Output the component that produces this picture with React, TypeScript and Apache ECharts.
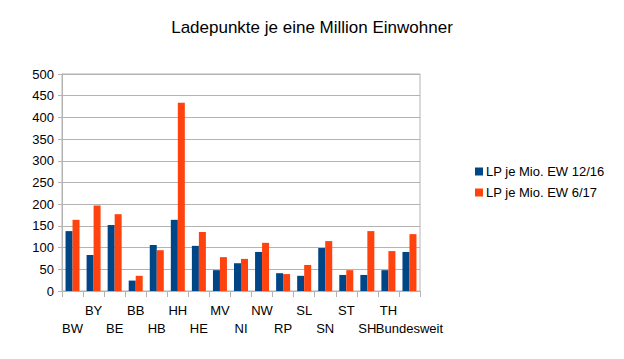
import React, { useEffect, useRef } from "react";
import * as echarts from "echarts";

const categories = ["BW", "BY", "BE", "BB", "HB", "HH", "HE", "MV", "NI", "NW", "RP", "SL", "SN", "ST", "SH", "TH", "Bundesweit"];
const series1216 = [138, 83, 152, 24, 106, 164, 104, 48, 64, 90, 41, 35, 99, 37, 37, 48, 90];
const series617 = [164, 197, 177, 35, 94, 434, 136, 78, 74, 111, 39, 60, 115, 48, 138, 92, 131];
const yTicks = { min: 0, max: 500, interval: 50 };

export default function App() {
  const ref = useRef<HTMLDivElement>(null);
  useEffect(() => {
    const chart = echarts.init(ref.current!, null, { renderer: "svg" });
    const font = "'Liberation Sans', Arial, sans-serif";
    chart.setOption({
      animation: false,
      textStyle: { fontFamily: font },
      title: {
        text: "Ladepunkte je eine Million Einwohner",
        left: "center",
        top: 14,
        textStyle: { fontFamily: font, fontSize: 17, fontWeight: "normal", color: "#000" },
      },
      legend: {
        orient: "vertical",
        left: 470,
        top: 160,
        itemWidth: 8,
        itemHeight: 8,
        itemGap: 8,
        icon: "rect",
        textStyle: { fontFamily: font, fontSize: 13, color: "#000", padding: [0, 0, 0, -2] },
        data: ["LP je Mio. EW 12/16", "LP je Mio. EW 6/17"],
      },
      grid: {
        left: 62,
        right: 204,
        top: 74,
        bottom: 68,
        show: true,
        borderColor: "#b3b3b3",
        borderWidth: 1,
      },
      xAxis: {
        type: "category",
        data: categories,
        boundaryGap: true,
        axisLine: { lineStyle: { color: "#b3b3b3" } },
        axisTick: { show: true, length: 6, interval: 0, lineStyle: { color: "#b3b3b3" } },
        axisLabel: {
          interval: 0,
          color: "#000",
          fontSize: 13,
          fontFamily: font,
          margin: 10,
          lineHeight: 18,
          formatter: (v: string, i: number) => (i % 2 === 0 ? "\n" + v : v),
        },
      },
      yAxis: {
        type: "value",
        min: yTicks.min,
        max: yTicks.max,
        interval: yTicks.interval,
        axisLine: { show: true, lineStyle: { color: "#b3b3b3" } },
        axisTick: { show: true, length: 4, lineStyle: { color: "#b3b3b3" } },
        axisLabel: { color: "#000", fontSize: 13, fontFamily: font, margin: 8 },
        splitLine: { lineStyle: { color: "#b3b3b3" } },
      },
      series: [
        {
          name: "LP je Mio. EW 12/16",
          type: "bar",
          data: series1216,
          barWidth: 7,
          barGap: "0%",
          itemStyle: { color: "#004586" },
        },
        {
          name: "LP je Mio. EW 6/17",
          type: "bar",
          data: series617,
          barWidth: 7,
          barGap: "0%",
          itemStyle: { color: "#ff420e" },
        },
      ],
    });
    return () => chart.dispose();
  }, []);
  return <div ref={ref} style={{ width: 624, height: 359, position: "absolute", left: 0, top: 0, background: "#fff" }} />;
}
